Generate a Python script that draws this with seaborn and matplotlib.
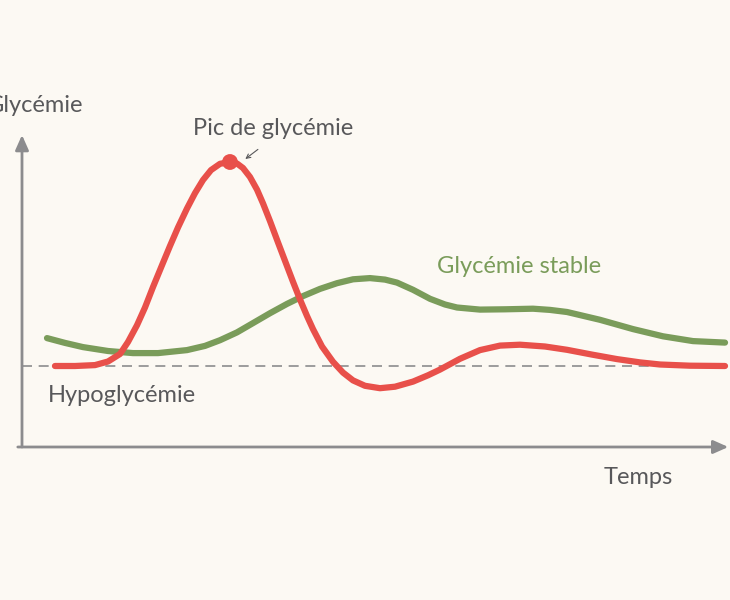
import numpy as np
import pandas as pd
import seaborn as sns
import matplotlib.pyplot as plt

# Data (arbitrary units: time 0-100, glycaemia 0-100)
red_t = [4.71, 7.57, 10.43, 12.29, 14.0, 15.14, 16.43, 17.57, 18.71, 20.0, 21.14, 22.29,
         23.57, 24.71, 25.86, 27.0, 28.29, 29.71, 30.71, 31.57, 32.57, 33.57, 34.43, 35.43,
         36.57, 37.86, 38.71, 39.71, 40.71, 41.57, 42.86, 44.43, 45.86, 47.29, 49.0, 51.14,
         53.29, 55.86, 58.0, 59.71, 62.57, 65.43, 68.29, 71.14, 74.71, 77.86, 81.43, 85.0,
         88.29, 91.14, 95.43, 100.43]
red_g = [27.0, 27.0, 27.3, 28.5, 31.0, 35.0, 40.6, 46.5, 53.3, 60.6, 67.0, 73.2,
         79.5, 84.6, 89.0, 92.3, 94.4, 95.0, 94.5, 93.0, 90.0, 85.8, 81.2, 75.3,
         68.2, 60.3, 55.1, 49.2, 43.7, 39.3, 33.5, 28.4, 24.8, 22.2, 20.4, 19.6,
         20.1, 21.8, 23.9, 25.8, 29.4, 32.3, 33.8, 34.1, 33.5, 32.4, 30.8, 29.3,
         28.2, 27.5, 27.1, 27.0]

green_t = [3.57, 6.14, 8.71, 12.29, 15.86, 19.43, 23.57, 26.14, 28.29, 30.71, 33.0, 35.43,
           37.86, 40.14, 42.57, 45.0, 47.29, 49.71, 51.86, 53.57, 55.86, 58.29, 60.43, 62.14,
           65.43, 69.0, 73.0, 75.43, 77.86, 82.57, 87.29, 91.57, 95.86, 100.43]
green_g = [36.3, 34.7, 33.3, 32.0, 31.3, 31.3, 32.3, 33.7, 35.6, 38.2, 41.3, 44.6,
           47.7, 50.3, 52.7, 54.6, 55.9, 56.3, 55.8, 54.8, 52.4, 49.4, 47.5, 46.5,
           45.8, 45.9, 46.1, 45.7, 45.0, 42.4, 39.3, 36.9, 35.3, 34.8]

peak_t, peak_g = 29.71, 95.0
hypo_level = 27.0

bg = '#fcf9f3'
red = '#e8504a'
green = '#7a9c5a'
axis_grey = '#8c8c8e'
text_grey = '#58585a'

sns.set_style('white')
plt.rcParams['font.family'] = ['Lato', 'DejaVu Sans']

fig = plt.figure(figsize=(7.3, 6), dpi=100, facecolor=bg)
ax = fig.add_axes([0, 0, 1, 1])
ax.set_facecolor(bg)
ax.set_xlim(-22 / 7, 708 / 7)
ax.set_ylim(-51, 149)
ax.axis('off')

# axes arrows
ax.annotate('', xy=(0, 104), xytext=(0, 0),
            arrowprops=dict(arrowstyle='-|>,head_length=0.9,head_width=0.4',
                            color=axis_grey, lw=2, shrinkA=0, shrinkB=0))
ax.annotate('', xy=(100.9, 0), xytext=(-0.6, 0),
            arrowprops=dict(arrowstyle='-|>,head_length=0.9,head_width=0.4',
                            color=axis_grey, lw=2, shrinkA=0, shrinkB=0))

# hypoglycaemia threshold
ax.plot([0, 90.4], [hypo_level, hypo_level], color=axis_grey, lw=1.2, ls=(0, (6, 4)))

df_red = pd.DataFrame({'t': red_t, 'g': red_g})
df_green = pd.DataFrame({'t': green_t, 'g': green_g})
sns.lineplot(data=df_green, x='t', y='g', ax=ax, color=green, lw=4.5, sort=False,
             solid_capstyle='round', solid_joinstyle='round')
sns.lineplot(data=df_red, x='t', y='g', ax=ax, color=red, lw=4.5, sort=False,
             solid_capstyle='round', solid_joinstyle='round')
sns.scatterplot(x=[peak_t], y=[peak_g], ax=ax, color=red, s=130, edgecolor='none', zorder=5)

# labels
ax.text(8.7, 114, 'Glycémie', ha='right', va='center', fontsize=17, color=text_grey)
ax.text(35.9, 106.3, 'Pic de glycémie', ha='center', va='center', fontsize=17, color=text_grey)
ax.annotate('', xy=(31.9, 96), xytext=(33.7, 99.2),
            arrowprops=dict(arrowstyle='->,head_length=0.3,head_width=0.15',
                            color=text_grey, lw=0.8, shrinkA=0, shrinkB=0))
ax.text(71, 60.3, 'Glycémie stable', ha='center', va='center', fontsize=17, color=green)
ax.text(3.7, 17.3, 'Hypoglycémie', ha='left', va='center', fontsize=17, color=text_grey)
ax.text(88.1, -10.3, 'Temps', ha='center', va='center', fontsize=17, color=text_grey)

fig.savefig('out.png', dpi=100, facecolor=bg)
